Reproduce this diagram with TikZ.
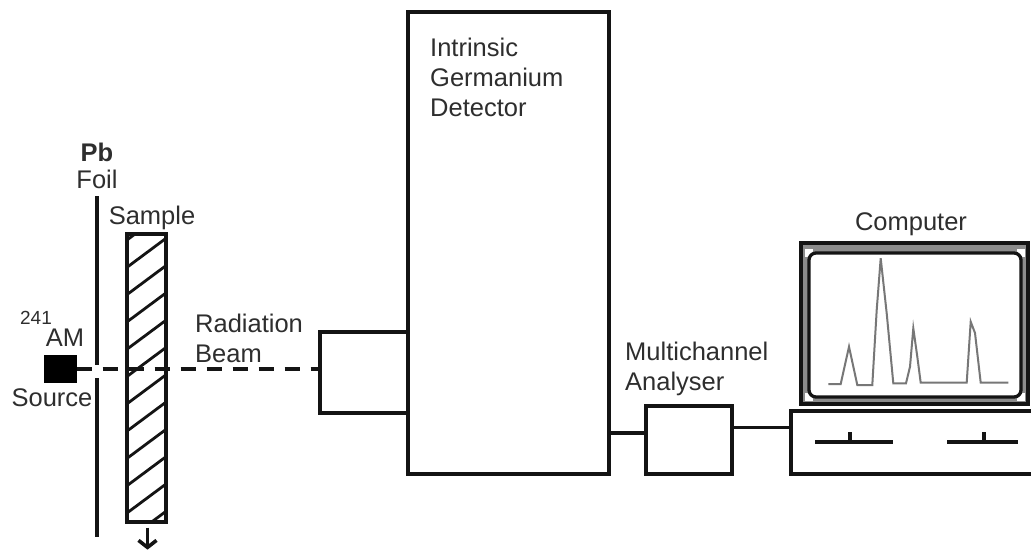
\documentclass[tikz,border=0pt]{standalone}
\usepackage{fontspec}
\setmainfont{Liberation Sans}
\usepackage{tikz}
\usetikzlibrary{arrows.meta,calc,positioning}
\definecolor{Ink}{HTML}{141414}
\definecolor{Trace}{HTML}{777777}
\definecolor{Band}{HTML}{8C8C8C}
\definecolor{Word}{HTML}{2E2E2E}
\tikzset{
  part/.style={draw=Ink,line width=3.3pt,fill=white,inner sep=0pt},
  wire/.style={draw=Ink,line width=3.3pt},
  label/.style={text=Word,inner sep=0pt,font=\fontsize{25.5}{30}\selectfont}
}
\begin{document}
\begin{tikzpicture}[x=1pt,y=-1pt]
      \useasboundingbox(0,0)rectangle(1031,549);
      % left part: foil, sample and source
      \coordinate(foilTop)at(97,196);
      \coordinate(foilGapA)at(97,365);
      \coordinate(foilGapB)at(97,378);
      \coordinate(foilEnd)at(97,537);
      \draw[wire](foilTop)--(foilGapA);
      \draw[wire](foilGapB)--(foilEnd);
      \node[part,minimum width=39pt,minimum height=288pt](sample)at(146.5,378){};
      \begin{scope}
        \clip(sample.north west)rectangle(sample.south east);
        \foreach \y in {240,267.3,294.6,321.9,349.2,376.5,403.8,431.1,458.4,485.7,513,540.3}
          \draw[Ink,line width=2.8pt](127,\y)--(166,\y-29);
      \end{scope}
      \node[part,minimum width=39pt,minimum height=288pt,fill=none](sampleEdge)at(sample.center){};
      \node[part,draw=black,fill=black,minimum width=29pt,minimum height=25pt](source)at(60.5,369){};
      \draw[Ink,line width=3.6pt,-{Straight Barb[length=7pt,width=18pt]}]
        ($(sample.south)+(1,4)$)--++(0,22);
      % detector and the boxes behind it
      \node[part,minimum width=201pt,minimum height=462pt](detector)at(508.5,243){};
      \node[part,minimum width=88pt,minimum height=81pt](collimator)at(364,372.5){};
      \draw[wire,line width=3.6pt,dash pattern=on 15pt off 11pt](source.east)--(collimator.west|-source.east);
      \node[part,minimum width=86pt,minimum height=68pt](analyser)at(689,440){};
      % computer
      \node[part,minimum width=250pt,minimum height=63pt](base)at(916,442.5){};
      \node[part,fill=Band,minimum width=227pt,minimum height=161pt](monitor)at(914.5,323.5){};
      \coordinate(screenNW)at(809,253);
      \coordinate(screenNE)at(1021,253);
      \coordinate(screenSW)at(809,397);
      \coordinate(screenSE)at(1021,397);
      \foreach \c in {screenNW,screenNE,screenSW,screenSE}
        \fill[white]($(\c)+(-4,-4)$)rectangle($(\c)+(4,4)$);
      \node[part,rounded corners=7pt,minimum width=212pt,minimum height=144pt](screen)at(915,325){};
      \draw[Trace,line width=2pt](828.3,384)--(840.7,384)--(849,346.7)--(857.3,385)--(872.3,385)
        --(876.7,310)--(880.7,258.3)--(886.7,313.3)--(893.3,383.3)--(906,383.3)--(910,366.7)
        --(913.3,328.3)--(917.3,356.7)--(920.7,382.7)--(966.7,382.7)--(970.7,321.7)--(975,333)
        --(980.7,382.7)--(1008.3,382.7);
      \coordinate(slotA)at(850,442);
      \coordinate(slotB)at(984,442);
      \draw[wire]($(slotA)+(-35,0)$)--($(slotA)+(43,0)$);
      \draw[wire]($(slotB)+(-37,0)$)--($(slotB)+(34,0)$);
      \draw[wire]($(slotA)+(0,-10)$)--(slotA);
      \draw[wire]($(slotB)+(0,-10)$)--(slotB);
      \draw[wire](detector.east|-analyser.171)--(analyser.171);
      \draw[wire](analyser.16)--(base.west|-analyser.16);
      % labels
      \node[label,font=\fontsize{25.5}{30}\selectfont\bfseries](pbText)at(97,152){Pb};
      \node[label](foilText)at(97,179){Foil};
      \node[label](sampleText)at(152,218){Sample};
      \node[label,font=\fontsize{19}{22}\selectfont](massText)at(36,318){241};
      \node[label](amText)at(65,338){AM};
      \node[label](sourceText)at(52,398){Source};
      \node[label,align=left,anchor=west](beamText)at(195,338){Radiation\\Beam};
      \node[label,align=left,anchor=west](detectorText)at(430,77){Intrinsic\\Germanium\\Detector};
      \node[label,align=left,anchor=west](analyserText)at(625,369){Multichannel\\Analyser};
      \node[label](computerText)at(911,224){Computer};
    \end{tikzpicture}
\end{document}
